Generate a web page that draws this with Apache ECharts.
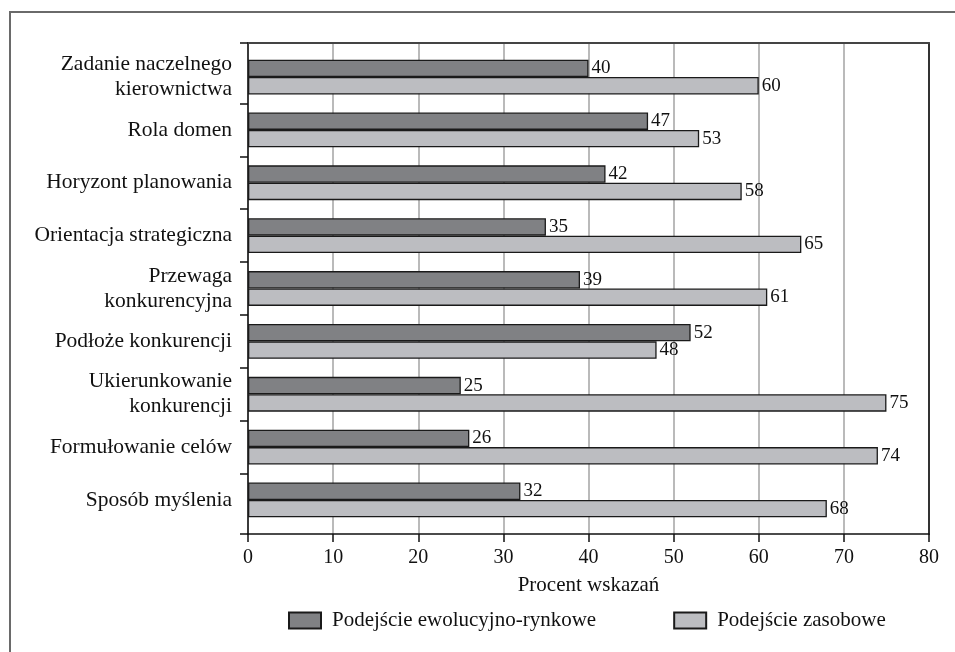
<!DOCTYPE html>
<html>
<head>
<meta charset="utf-8">
<script src="https://cdn.jsdelivr.net/npm/echarts@6/dist/echarts.min.js"></script>
<style>
    html, body { margin: 0; padding: 0; background: #fff; }
    #chart { width: 955px; height: 652px; }
</style>
</head>
<body>
<div id="chart"></div>
<script>
// dane
var categories = [
    'Zadanie naczelnego\nkierownictwa',
    'Rola domen',
    'Horyzont planowania',
    'Orientacja strategiczna',
    'Przewaga\nkonkurencyjna',
    'Podłoże konkurencji',
    'Ukierunkowanie\nkonkurencji',
    'Formułowanie celów',
    'Sposób myślenia'
];
var ewolucyjnoRynkowe = [40, 47, 42, 35, 39, 52, 25, 26, 32];
var zasobowe = [60, 53, 58, 65, 61, 48, 75, 74, 68];
var xTicks = [0, 10, 20, 30, 40, 50, 60, 70, 80];
var seriesNames = ['Podejście ewolucyjno-rynkowe', 'Podejście zasobowe'];

var font = 'Liberation Serif';
var plotTop = 43, plotBottom = 534, plotLeft = 248, plotRight = 929;
var W = 955, H = 652;
var pad = 0.144; // odstęp kategorii od ramki (w jednostkach pasma)
var n = categories.length;
var band = (plotBottom - plotTop) / (n + 2 * pad);

// podziałki osi kategorii: krańce + granice między kategoriami
var yTickValues = [-pad];
for (var i = 1; i < n; i++) yTickValues.push(i);
yTickValues.push(n + pad);

var myChart = echarts.init(document.getElementById('chart'));
var option = {
    animation: false,
    backgroundColor: '#fff',
    textStyle: {fontFamily: font, color: '#111'},
    graphic: [
        {type: 'polyline', shape: {points: [[10, H], [10, 12], [W, 12]]},
            style: {stroke: '#6a6a6a', lineWidth: 2, fill: null}}
    ],
    legend: {
        left: 283,
        top: 605,
        itemWidth: 32,
        itemHeight: 16,
        itemGap: 77,
        icon: 'rect',
        textStyle: {fontFamily: font, fontSize: 21, color: '#111', padding: [0, 0, 0, 6]},
        data: seriesNames
    },
    grid: [
        {left: plotLeft, right: W - plotRight, top: plotTop, bottom: H - plotBottom},
        {left: plotLeft, right: W - plotRight, top: plotTop + pad * band, bottom: H - plotBottom + pad * band}
    ],
    xAxis: [
        {
            gridIndex: 0, type: 'value', min: 0, max: 80, interval: 10,
            position: 'bottom',
            axisLine: {show: true, onZero: false, lineStyle: {color: '#111', width: 1.5}},
            axisTick: {show: true, length: 8, lineStyle: {color: '#111', width: 1.5}},
            axisLabel: {fontFamily: font, fontSize: 20, color: '#111', margin: 14,
                formatter: function (v) { return xTicks.indexOf(v) >= 0 ? String(v) : ''; }},
            splitLine: {show: true, lineStyle: {color: '#a3a3a3', width: 1.5}},
            name: 'Procent wskazań',
            nameLocation: 'middle',
            nameGap: 41,
            nameTextStyle: {fontFamily: font, fontSize: 21, color: '#111'}
        },
        {
            gridIndex: 0, type: 'value', min: 0, max: 80, position: 'top',
            axisLine: {show: true, onZero: false, lineStyle: {color: '#444', width: 2}},
            axisTick: {show: false}, axisLabel: {show: false}, splitLine: {show: false}
        },
        {
            gridIndex: 1, type: 'value', min: 0, max: 80, show: false
        }
    ],
    yAxis: [
        {
            gridIndex: 0, type: 'value', min: -pad, max: n + pad, inverse: true,
            axisLine: {show: true, onZero: false, lineStyle: {color: '#111', width: 1.5}},
            axisTick: {show: true, length: 8, customValues: yTickValues,
                lineStyle: {color: '#111', width: 1.5}},
            axisLabel: {show: false}, splitLine: {show: false}
        },
        {
            gridIndex: 0, type: 'value', min: 0, max: 1, position: 'right',
            axisLine: {show: true, onZero: false, lineStyle: {color: '#333', width: 2}},
            axisTick: {show: false}, axisLabel: {show: false}, splitLine: {show: false}
        },
        {
            gridIndex: 1, type: 'category', inverse: true, data: categories,
            axisLine: {show: false},
            axisTick: {show: false},
            axisLabel: {fontFamily: font, fontSize: 21.5, lineHeight: 25, color: '#111', margin: 16}
        }
    ],
    series: [
        {
            name: seriesNames[0], type: 'bar', xAxisIndex: 2, yAxisIndex: 2,
            barWidth: 17.4, barGap: '0%',
            itemStyle: {color: '#808184', borderColor: '#1a1a1a', borderWidth: 1.3},
            label: {show: true, position: 'right', distance: 3,
                fontFamily: font, fontSize: 19, color: '#111'},
            data: ewolucyjnoRynkowe
        },
        {
            name: seriesNames[1], type: 'bar', xAxisIndex: 2, yAxisIndex: 2,
            barWidth: 17.4, barGap: '0%',
            itemStyle: {color: '#bcbdc1', borderColor: '#1a1a1a', borderWidth: 1.3},
            label: {show: true, position: 'right', distance: 3,
                fontFamily: font, fontSize: 19, color: '#111'},
            data: zasobowe
        }
    ]
};
myChart.setOption(option);
</script>
</body>
</html>
